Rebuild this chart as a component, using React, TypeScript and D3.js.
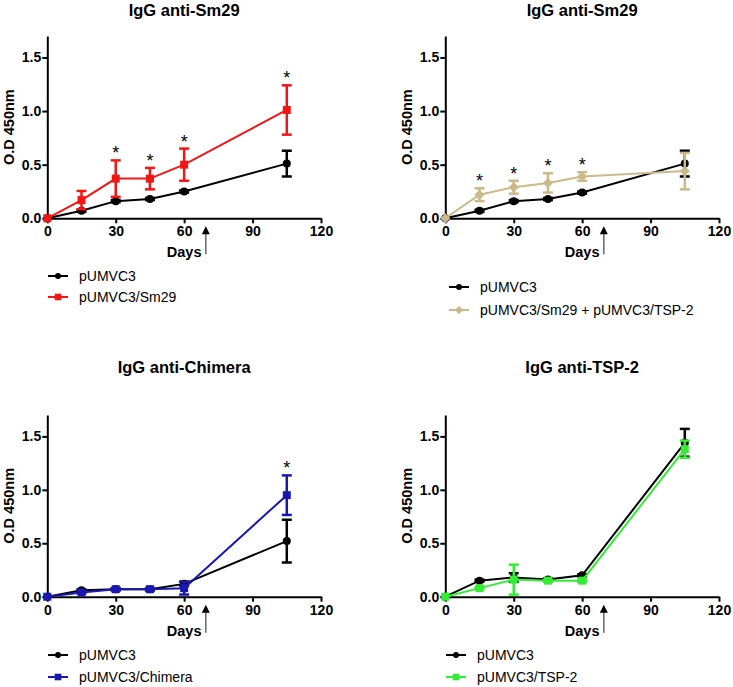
import React, { useEffect, useRef } from "react";
import * as d3 from "d3";

// ---------- data ----------
const days = [0, 15, 30, 45, 60, 105];
const xTicks = [0, 30, 60, 90, 120];
const yTicks = [0, 0.5, 1.0, 1.5];
const yTickLabels = ["0.0", "0.5", "1.0", "1.5"];

const titles = ["IgG anti-Sm29", "IgG anti-Sm29", "IgG anti-Chimera", "IgG anti-TSP-2"];
const controlName = "pUMVC3";
const treatNames = ["pUMVC3/Sm29", "pUMVC3/Sm29 + pUMVC3/TSP-2", "pUMVC3/Chimera", "pUMVC3/TSP-2"];

const ctrl1 = [0, 0.07, 0.16, 0.18, 0.25, 0.51];
const ctrl1Err = [0, 0.01, 0.01, 0.01, 0.01, 0.12];
const sm29 = [0, 0.17, 0.37, 0.37, 0.5, 1.01];
const sm29Err = [0, 0.085, 0.17, 0.1, 0.15, 0.23];
const stars1 = [30, 45, 60, 105];

const ctrl2 = [0, 0.07, 0.16, 0.18, 0.24, 0.51];
const ctrl2Err = [0, 0.01, 0.01, 0.01, 0.01, 0.12];
const combo = [0, 0.22, 0.29, 0.33, 0.39, 0.44];
const comboErr = [0, 0.06, 0.06, 0.09, 0.04, 0.17];
const stars2 = [15, 30, 45, 60];

const ctrl3 = [0, 0.06, 0.07, 0.07, 0.12, 0.52];
const ctrl3Err = [0, 0.01, 0.01, 0.01, 0.02, 0.2];
const chimera = [0, 0.04, 0.07, 0.07, 0.08, 0.95];
const chimeraErr = [0, 0.01, 0.01, 0.01, 0.06, 0.185];
const stars3 = [105];

const ctrl4 = [0, 0.15, 0.18, 0.16, 0.2, 1.44];
const ctrl4Err = [0, 0.01, 0.04, 0.01, 0.01, 0.13];
const tsp2 = [0, 0.08, 0.16, 0.15, 0.15, 1.38];
const tsp2Err = [0, 0.01, 0.14, 0.01, 0.01, 0.08];
const stars4: number[] = [];

const boostDay = 69.5;

// ---------- layout ----------
const W = 733;
const H = 687;
const FONT = "Liberation Sans, Arial, Helvetica, sans-serif";

const panels = [
  { left: 47.3, right: 321, top: 36, bottom: 218.3, titleY: 16, legendX: 48, legendY: [276, 297], ctrl: ctrl1, ctrlErr: ctrl1Err, treat: sm29, treatErr: sm29Err, stars: stars1, color: "#f01616", marker: "square" },
  { left: 445.3, right: 719, top: 36, bottom: 218.3, titleY: 16, legendX: 449, legendY: [287, 310], ctrl: ctrl2, ctrlErr: ctrl2Err, treat: combo, treatErr: comboErr, stars: stars2, color: "#c9b98b", marker: "diamond" },
  { left: 47.3, right: 321, top: 415, bottom: 596.7, titleY: 373, legendX: 48, legendY: [655, 677], ctrl: ctrl3, ctrlErr: ctrl3Err, treat: chimera, treatErr: chimeraErr, stars: stars3, color: "#1818b0", marker: "square" },
  { left: 445.3, right: 719, top: 415, bottom: 596.7, titleY: 373, legendX: 446, legendY: [655, 677], ctrl: ctrl4, ctrlErr: ctrl4Err, treat: tsp2, treatErr: tsp2Err, stars: stars4, color: "#35ec35", marker: "square" },
];

function drawMarker(g: any, type: string, x: number, y: number, color: string, s: number) {
  if (type === "circle") {
    g.append("circle").attr("cx", x).attr("cy", y).attr("r", s).attr("fill", color);
  } else if (type === "square") {
    g.append("rect").attr("x", x - s).attr("y", y - s).attr("width", 2 * s).attr("height", 2 * s).attr("fill", color);
  } else {
    const d = s * 1.25;
    g.append("polygon")
      .attr("points", `${x},${y - d} ${x + d},${y} ${x},${y + d} ${x - d},${y}`)
      .attr("fill", color);
  }
}

export default function App() {
  const ref = useRef<SVGSVGElement>(null);

  useEffect(() => {
    const svg = d3.select(ref.current);
    svg.selectAll("*").remove();

    panels.forEach((p, i) => {
      const g = svg.append("g");
      const x = d3.scaleLinear().domain([0, 120]).range([p.left, p.right]);
      const y = d3.scaleLinear().domain([0, 1.7]).range([p.bottom, p.top]);
      const cx = (p.left + p.right) / 2;

      // title
      g.append("text").attr("x", cx).attr("y", p.titleY).attr("text-anchor", "middle")
        .attr("font-family", FONT).attr("font-weight", "bold").attr("font-size", 16.5).text(titles[i]);

      // axes
      const xa = g.append("g").attr("transform", `translate(0,${p.bottom})`)
        .call(d3.axisBottom(x).tickValues(xTicks).tickSize(5).tickSizeOuter(0).tickPadding(3));
      const ya = g.append("g").attr("transform", `translate(${p.left},0)`)
        .call(d3.axisLeft(y).tickValues(yTicks).tickFormat((_d: any, k: number) => yTickLabels[k]).tickSize(5).tickSizeOuter(0).tickPadding(1));
      [xa, ya].forEach((a) => {
        a.select(".domain").attr("stroke", "#000").attr("stroke-width", 2);
        a.selectAll(".tick line").attr("stroke", "#000").attr("stroke-width", 2);
        a.selectAll(".tick text").attr("font-family", FONT).attr("font-weight", "bold").attr("font-size", 14).attr("fill", "#000");
      });

      // axis labels
      g.append("text").attr("x", cx).attr("y", p.bottom + 39).attr("text-anchor", "middle")
        .attr("font-family", FONT).attr("font-weight", "bold").attr("font-size", 14.5).text("Days");
      const ylx = p.left - 33;
      const yly = (p.top + p.bottom) / 2;
      g.append("text").attr("transform", `translate(${ylx},${yly}) rotate(-90)`).attr("text-anchor", "middle")
        .attr("font-family", FONT).attr("font-weight", "bold").attr("font-size", 14.5).text("O.D 450nm");

      // boost arrow
      const ax = x(boostDay);
      const ht = p.bottom + 8;
      g.append("line").attr("x1", ax).attr("x2", ax).attr("y1", ht + 6).attr("y2", ht + 28)
        .attr("stroke", "#666").attr("stroke-width", 1.5);
      g.append("polygon").attr("points", `${ax},${ht} ${ax + 4},${ht + 8} ${ax - 4},${ht + 8}`).attr("fill", "#000");

      const line = d3.line<number>().x((_d, k) => x(days[k])).y((d) => y(d));

      const series = [
        { vals: p.ctrl, err: p.ctrlErr, color: "#000", marker: "circle", size: 4 },
        { vals: p.treat, err: p.treatErr, color: p.color, marker: p.marker, size: 4 },
      ];
      series.forEach((s) => {
        g.append("path").attr("d", line(s.vals)).attr("fill", "none").attr("stroke", s.color).attr("stroke-width", 2);
        s.vals.forEach((v, k) => {
          const e = s.err[k];
          if (e > 0) {
            const xx = x(days[k]);
            g.append("line").attr("x1", xx).attr("x2", xx).attr("y1", y(v - e)).attr("y2", y(v + e)).attr("stroke", s.color).attr("stroke-width", 2.5);
            [v - e, v + e].forEach((t) => {
              g.append("line").attr("x1", xx - 5).attr("x2", xx + 5).attr("y1", y(t)).attr("y2", y(t)).attr("stroke", s.color).attr("stroke-width", 2.5);
            });
          }
          drawMarker(g, s.marker, x(days[k]), y(v), s.color, s.size);
        });
      });

      // significance stars
      p.stars.forEach((d) => {
        const k = days.indexOf(d);
        const top = Math.max(p.treat[k] + p.treatErr[k], p.ctrl[k] + p.ctrlErr[k]);
        g.append("text").attr("x", x(d)).attr("y", y(top) - 1).attr("text-anchor", "middle")
          .attr("font-family", FONT).attr("font-size", 18).text("*");
      });

      // legend
      const legendItems = [
        { name: controlName, color: "#000", marker: "circle", size: 3 },
        { name: treatNames[i], color: p.color, marker: p.marker, size: 3.3 },
      ];
      legendItems.forEach((it, k) => {
        const ly = p.legendY[k];
        g.append("line").attr("x1", p.legendX).attr("x2", p.legendX + 20).attr("y1", ly).attr("y2", ly)
          .attr("stroke", it.color).attr("stroke-width", 2);
        drawMarker(g, it.marker, p.legendX + 10, ly, it.color, it.size);
        g.append("text").attr("x", p.legendX + 31).attr("y", ly + 5)
          .attr("font-family", FONT).attr("font-size", 14).text(it.name);
      });
    });
  }, []);

  return (
    <svg ref={ref} width={W} height={H} style={{ position: "absolute", left: 0, top: 0, background: "#fff" }} />
  );
}
